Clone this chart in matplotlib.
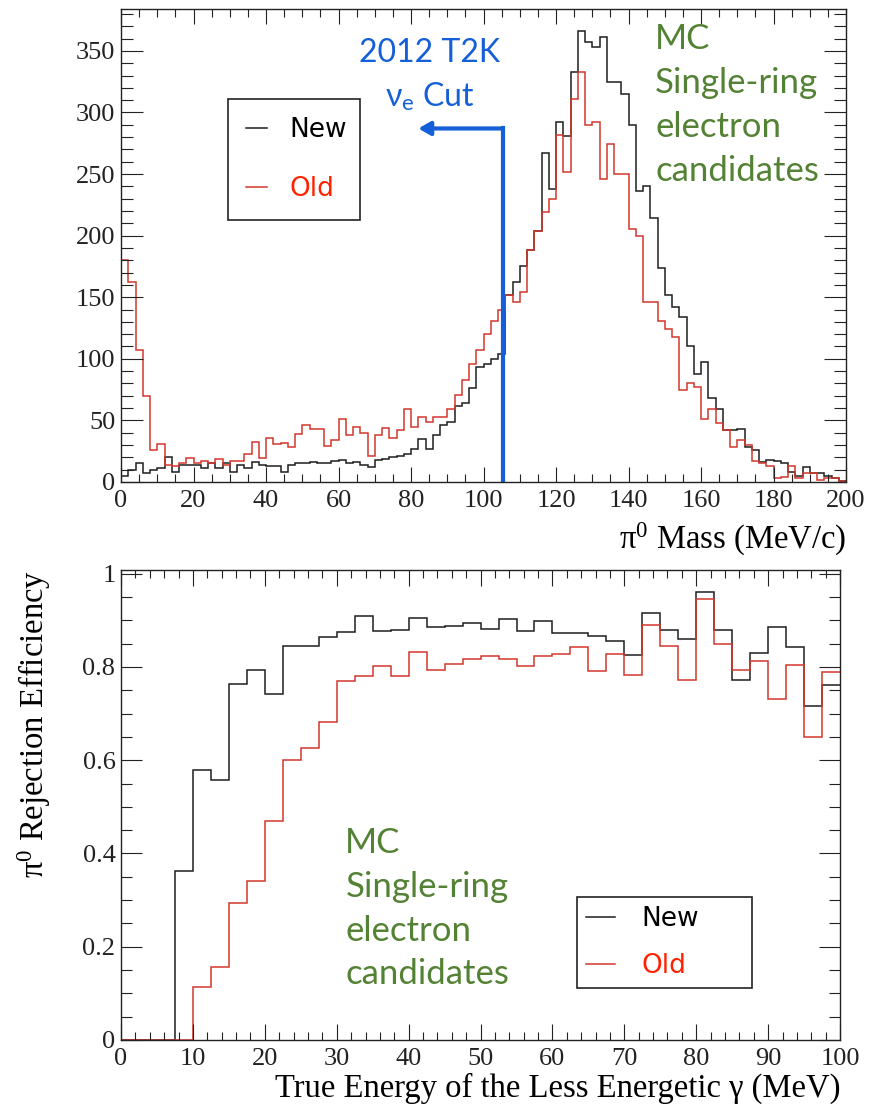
import numpy as np
import matplotlib
matplotlib.use('Agg')
import matplotlib.pyplot as plt
from matplotlib.ticker import MultipleLocator, FormatStrFormatter
from matplotlib.lines import Line2D

# pi0 invariant mass, 2 MeV/c bins
mass_edges = np.arange(0, 202, 2)
mass_new = [5, 10, 15, 7, 9.5, 11, 20, 8, 14, 13.5,
            13.5, 11, 15, 11, 15, 8, 14, 11, 16, 14,
            13, 13, 8, 14, 15, 15.5, 16, 15, 15, 17,
            17.5, 15.5, 16, 14, 12, 18, 19, 20, 21, 22.5,
            27, 35, 27, 38, 46, 49, 62, 64, 76, 93,
            96, 100, 104, 152, 162, 175, 188, 204, 267, 238,
            292, 281, 333, 366, 357, 353, 361, 325, 325, 315,
            290, 236, 240, 214, 174, 152, 142, 134, 110, 88,
            97, 68, 59, 42, 42, 43, 28, 26, 16, 18,
            17, 15, 8, 5, 12, 7, 7, 5, 3, 1]
mass_old = [180, 162, 107, 70, 26, 31, 14, 13, 15, 19.5,
            15.5, 17, 15.5, 18.5, 14, 17, 17, 22.5, 32.5, 19.5,
            36, 31, 32, 28, 39, 46, 43, 43, 29, 34,
            51, 38, 45, 40, 21, 38, 44, 36, 42, 59,
            45, 53, 49, 53, 53, 59, 71, 83, 96, 107,
            120, 131, 140, 152, 146, 154, 188, 204, 219, 230,
            282, 252, 311, 333, 290, 292, 246, 274, 250, 250,
            205, 200, 146, 146, 131, 124, 118, 75, 80, 77,
            51, 59, 48, 42, 28, 34, 30, 17, 15, 13,
            3, 4, 13, 3.5, 7, 7, 1.5, 3.5, 3.5, 0.5]

# rejection efficiency vs true energy of the softer photon, 2.5 MeV bins
egam_edges = np.arange(0, 102.5, 2.5)
eff_new = [0, 0, 0, 0.363, 0.579, 0.558, 0.764, 0.794, 0.742, 0.845,
           0.845, 0.864, 0.876, 0.910, 0.878, 0.880, 0.905, 0.885, 0.888, 0.894,
           0.882, 0.903, 0.878, 0.898, 0.873, 0.872, 0.866, 0.856, 0.826, 0.916,
           0.880, 0.861, 0.961, 0.880, 0.771, 0.831, 0.885, 0.842, 0.717, 0.761]
eff_old = [0, 0, 0, 0, 0.113, 0.157, 0.293, 0.340, 0.469, 0.601,
           0.627, 0.682, 0.769, 0.780, 0.801, 0.780, 0.833, 0.794, 0.807, 0.818,
           0.823, 0.818, 0.801, 0.824, 0.828, 0.842, 0.792, 0.828, 0.783, 0.891,
           0.846, 0.772, 0.946, 0.850, 0.794, 0.813, 0.732, 0.805, 0.650, 0.790]

# nu_e selection cut on the pi0 mass
nue_cut = 105.3
cut_arrow_y = 287
cut_arrow_end = 82

plt.rcParams['font.family'] = 'Liberation Serif'
plt.rcParams['mathtext.fontset'] = 'custom'
plt.rcParams['mathtext.rm'] = 'Liberation Serif'
plt.rcParams['mathtext.it'] = 'Liberation Serif:italic'

c_new = '#1e1e1e'
c_old = '#d2382c'
c_blue = '#1560d8'
c_green = '#548235'
note_font = ['Lato', 'DejaVu Sans']

fig = plt.figure(figsize=(8.79, 11.1), dpi=100)
ax1 = fig.add_axes([0.1377, 0.5658, 0.8248, 0.4261])
ax2 = fig.add_axes([0.1377, 0.0631, 0.8180, 0.4234])


def style_axes(ax, xmaj, xmin, ymaj, ymin, xlen, ylen):
    ax.xaxis.set_major_locator(MultipleLocator(xmaj))
    ax.xaxis.set_minor_locator(MultipleLocator(xmin))
    ax.yaxis.set_major_locator(MultipleLocator(ymaj))
    ax.yaxis.set_minor_locator(MultipleLocator(ymin))
    ax.yaxis.set_major_formatter(FormatStrFormatter('%g'))
    ax.tick_params(which='both', direction='in', top=True, right=True,
                   width=0.8, color='#222222', labelsize=19, labelcolor='#222222')
    ax.tick_params(axis='x', which='major', length=xlen[0], pad=6)
    ax.tick_params(axis='x', which='minor', length=xlen[1])
    ax.tick_params(axis='y', which='major', length=ylen[0], pad=4)
    ax.tick_params(axis='y', which='minor', length=ylen[1])
    for sp in ax.spines.values():
        sp.set_linewidth(1.0)
        sp.set_color('#222222')


# ---- top: pi0 mass ----
ax1.stairs(mass_new, mass_edges, baseline=None, color=c_new, lw=1.1)
ax1.stairs(mass_old, mass_edges, baseline=None, color=c_old, lw=1.1)
ax1.set_xlim(0, 200)
ax1.set_ylim(0, 384)
style_axes(ax1, 20, 5, 50, 10, (10.8, 5.8), (15.8, 8.6))
ax1.set_xlabel(r'π$^{0}$ Mass (MeV/c)', fontsize=23.5, loc='right')
ax1.xaxis.set_label_coords(1.0, -0.083)

ax1.plot([nue_cut, nue_cut], [0, cut_arrow_y], color=c_blue, lw=3,
         solid_capstyle='projecting')
ax1.annotate('', xy=(cut_arrow_end, cut_arrow_y), xytext=(nue_cut, cut_arrow_y),
             arrowprops=dict(arrowstyle='-|>,head_length=0.7,head_width=0.4',
                             color=c_blue, lw=3, shrinkA=0, shrinkB=0))
ax1.text(85.2, 330, '2012 T2K\nν$_\\mathregular{e}$ Cut', color=c_blue,
         fontsize=23, family=note_font, ha='center', va='center',
         multialignment='center', linespacing=1.5)
ax1.text(147.3, 306, 'MC\nSingle-ring\nelectron\ncandidates', color=c_green,
         fontsize=25, family=note_font, ha='left', va='center', linespacing=1.47)

handles = [Line2D([], [], color=c_new, lw=1.1), Line2D([], [], color=c_old, lw=1.1)]
ax1.legend(handles, ['New', 'Old'], loc='upper left',
           bbox_to_anchor=(0.1476, 0.558, 0.1821, 0.2517), mode='expand',
           borderaxespad=0, prop={'family': 'DejaVu Sans', 'size': 19},
           labelcolor=['black', '#ff2200'], handlelength=0.8, handletextpad=0.85,
           borderpad=0.68, labelspacing=1.27, fancybox=False, framealpha=1,
           edgecolor='#222222').get_frame().set_linewidth(1.2)

# ---- bottom: rejection efficiency ----
ax2.stairs(eff_new, egam_edges, baseline=None, color=c_new, lw=1.1)
ax2.stairs(eff_old, egam_edges, baseline=None, color=c_old, lw=1.1)
ax2.set_xlim(0, 100)
ax2.set_ylim(0, 1.008)
style_axes(ax2, 10, 2, 0.2, 0.05, (11.5, 5.5), (15, 8))
ax2.set_xlabel('True Energy of the Less Energetic γ (MeV)', fontsize=23.5, loc='right')
ax2.xaxis.set_label_coords(1.0, -0.07)
ax2.set_ylabel(r'π$^{0}$ Rejection Efficiency', fontsize=23.5, loc='top')
ax2.yaxis.set_label_coords(-0.094, 1.0)

ax2.text(31.2, 0.281, 'MC\nSingle-ring\nelectron\ncandidates', color=c_green,
         fontsize=25, family=note_font, ha='left', va='center', linespacing=1.45)

ax2.legend(handles, ['New', 'Old'], loc='upper left',
           bbox_to_anchor=(0.634, 0.1128, 0.2434, 0.1915), mode='expand',
           borderaxespad=0, prop={'family': 'DejaVu Sans', 'size': 19},
           labelcolor=['black', '#ff2200'], handlelength=1.1, handletextpad=1.0,
           borderpad=0.36, labelspacing=0.77, fancybox=False, framealpha=1,
           edgecolor='#222222').get_frame().set_linewidth(1.2)

fig.savefig('out.png', dpi=100)
